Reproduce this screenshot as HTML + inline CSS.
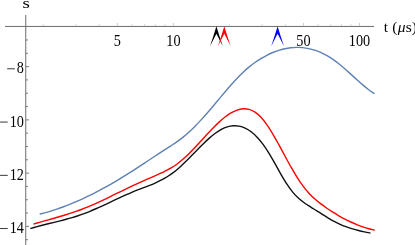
<!DOCTYPE html>
<html><head><meta charset="utf-8"><style>
html,body{margin:0;padding:0;background:#fff;}
body{width:415px;height:245px;overflow:hidden;font-family:"Liberation Serif",serif;}
svg{display:block;}
</style></head><body>
<svg width="415" height="245" viewBox="0 0 415 245">
<line x1="5" y1="26.45" x2="374" y2="26.45" stroke="#6c6c6c" stroke-width="1"/>
<line x1="25.75" y1="15" x2="25.75" y2="245" stroke="#6c6c6c" stroke-width="1"/>
<line x1="117.38" y1="26.45" x2="117.38" y2="22.85" stroke="#999" stroke-width="0.45"/>
<line x1="173.40" y1="26.45" x2="173.40" y2="22.85" stroke="#999" stroke-width="0.45"/>
<line x1="303.48" y1="26.45" x2="303.48" y2="22.85" stroke="#999" stroke-width="0.45"/>
<line x1="359.50" y1="26.45" x2="359.50" y2="22.85" stroke="#999" stroke-width="0.45"/>
<line x1="43.32" y1="26.45" x2="43.32" y2="24.25" stroke="#999" stroke-width="0.45"/>
<line x1="76.09" y1="26.45" x2="76.09" y2="24.25" stroke="#999" stroke-width="0.45"/>
<line x1="99.34" y1="26.45" x2="99.34" y2="24.25" stroke="#999" stroke-width="0.45"/>
<line x1="132.11" y1="26.45" x2="132.11" y2="24.25" stroke="#999" stroke-width="0.45"/>
<line x1="144.57" y1="26.45" x2="144.57" y2="24.25" stroke="#999" stroke-width="0.45"/>
<line x1="155.37" y1="26.45" x2="155.37" y2="24.25" stroke="#999" stroke-width="0.45"/>
<line x1="164.88" y1="26.45" x2="164.88" y2="24.25" stroke="#999" stroke-width="0.45"/>
<line x1="229.42" y1="26.45" x2="229.42" y2="24.25" stroke="#999" stroke-width="0.45"/>
<line x1="262.19" y1="26.45" x2="262.19" y2="24.25" stroke="#999" stroke-width="0.45"/>
<line x1="285.44" y1="26.45" x2="285.44" y2="24.25" stroke="#999" stroke-width="0.45"/>
<line x1="318.21" y1="26.45" x2="318.21" y2="24.25" stroke="#999" stroke-width="0.45"/>
<line x1="330.67" y1="26.45" x2="330.67" y2="24.25" stroke="#999" stroke-width="0.45"/>
<line x1="341.47" y1="26.45" x2="341.47" y2="24.25" stroke="#999" stroke-width="0.45"/>
<line x1="350.98" y1="26.45" x2="350.98" y2="24.25" stroke="#999" stroke-width="0.45"/>
<line x1="25.75" y1="39.97" x2="27.95" y2="39.97" stroke="#7a7a7a" stroke-width="1"/>
<line x1="25.75" y1="53.28" x2="27.95" y2="53.28" stroke="#7a7a7a" stroke-width="1"/>
<line x1="25.75" y1="66.60" x2="29.05" y2="66.60" stroke="#7a7a7a" stroke-width="1"/>
<line x1="25.75" y1="79.91" x2="27.95" y2="79.91" stroke="#7a7a7a" stroke-width="1"/>
<line x1="25.75" y1="93.23" x2="27.95" y2="93.23" stroke="#7a7a7a" stroke-width="1"/>
<line x1="25.75" y1="106.54" x2="27.95" y2="106.54" stroke="#7a7a7a" stroke-width="1"/>
<line x1="25.75" y1="119.86" x2="29.05" y2="119.86" stroke="#7a7a7a" stroke-width="1"/>
<line x1="25.75" y1="133.18" x2="27.95" y2="133.18" stroke="#7a7a7a" stroke-width="1"/>
<line x1="25.75" y1="146.49" x2="27.95" y2="146.49" stroke="#7a7a7a" stroke-width="1"/>
<line x1="25.75" y1="159.81" x2="27.95" y2="159.81" stroke="#7a7a7a" stroke-width="1"/>
<line x1="25.75" y1="173.12" x2="29.05" y2="173.12" stroke="#7a7a7a" stroke-width="1"/>
<line x1="25.75" y1="186.44" x2="27.95" y2="186.44" stroke="#7a7a7a" stroke-width="1"/>
<line x1="25.75" y1="199.75" x2="27.95" y2="199.75" stroke="#7a7a7a" stroke-width="1"/>
<line x1="25.75" y1="213.06" x2="27.95" y2="213.06" stroke="#7a7a7a" stroke-width="1"/>
<line x1="25.75" y1="226.38" x2="29.05" y2="226.38" stroke="#7a7a7a" stroke-width="1"/>
<line x1="25.75" y1="239.69" x2="27.95" y2="239.69" stroke="#7a7a7a" stroke-width="1"/>
<g opacity="0.99">
<text transform="translate(117.38 45.80) scale(0.920 1.060)" text-anchor="middle" font-family="Liberation Serif, serif" font-size="15.5" fill="#000" >5</text>
<text transform="translate(173.40 45.80) scale(0.920 1.060)" text-anchor="middle" font-family="Liberation Serif, serif" font-size="15.5" fill="#000" >10</text>
<text transform="translate(303.48 45.80) scale(0.920 1.060)" text-anchor="middle" font-family="Liberation Serif, serif" font-size="15.5" fill="#000" >50</text>
<text transform="translate(359.50 45.80) scale(0.920 1.060)" text-anchor="middle" font-family="Liberation Serif, serif" font-size="15.5" fill="#000" >100</text>
<text transform="translate(23.90 73.30) scale(0.920 1.060)" text-anchor="end" font-family="Liberation Serif, serif" font-size="15.5" fill="#000" >8</text>
<rect x="7.17" y="68.35" width="7.7" height="0.9" fill="#222"/>
<text transform="translate(23.90 126.56) scale(0.920 1.060)" text-anchor="end" font-family="Liberation Serif, serif" font-size="15.5" fill="#000" >10</text>
<rect x="0.04" y="121.61" width="7.7" height="0.9" fill="#222"/>
<text transform="translate(23.90 179.82) scale(0.920 1.060)" text-anchor="end" font-family="Liberation Serif, serif" font-size="15.5" fill="#000" >12</text>
<rect x="0.04" y="174.87" width="7.7" height="0.9" fill="#222"/>
<text transform="translate(23.90 233.08) scale(0.920 1.060)" text-anchor="end" font-family="Liberation Serif, serif" font-size="15.5" fill="#000" >14</text>
<rect x="0.04" y="228.13" width="7.7" height="0.9" fill="#222"/>
<text transform="translate(26.1 7.6) scale(1.22 0.96)" text-anchor="middle" font-family="Liberation Serif, serif" font-size="15.5" fill="#000">s</text>
<text x="383.7" y="32.4" letter-spacing="0.2" font-family="Liberation Serif, serif" font-size="15.5" fill="#000">t (<tspan font-style="italic">μ</tspan>s)</text>
</g>
<path d="M39.70 214.12 C40.70 213.86 43.68 213.13 45.68 212.58 C47.67 212.04 49.66 211.45 51.65 210.84 C53.65 210.23 55.64 209.58 57.63 208.90 C59.62 208.22 61.61 207.51 63.61 206.77 C65.60 206.03 67.59 205.25 69.58 204.45 C71.58 203.65 73.57 202.82 75.56 201.97 C77.55 201.11 79.55 200.22 81.54 199.31 C83.53 198.40 85.52 197.46 87.51 196.49 C89.51 195.53 91.50 194.54 93.49 193.53 C95.48 192.51 97.48 191.47 99.47 190.41 C101.46 189.35 103.45 188.27 105.44 187.16 C107.44 186.06 109.43 184.93 111.42 183.78 C113.41 182.64 115.41 181.47 117.40 180.28 C119.39 179.09 121.38 177.89 123.38 176.66 C125.37 175.44 127.36 174.20 129.35 172.94 C131.34 171.68 133.34 170.40 135.33 169.12 C137.32 167.83 139.31 166.52 141.31 165.21 C143.30 163.90 145.29 162.57 147.28 161.25 C149.27 159.93 151.27 158.60 153.26 157.28 C155.25 155.96 157.24 154.64 159.24 153.34 C161.23 152.03 163.22 150.74 165.21 149.45 C167.20 148.16 169.20 146.91 171.19 145.60 C173.18 144.28 175.17 142.98 177.17 141.56 C179.16 140.14 181.15 138.69 183.14 137.09 C185.14 135.49 187.13 133.77 189.12 131.95 C191.11 130.14 193.10 128.19 195.10 126.18 C197.09 124.17 199.08 122.05 201.07 119.89 C203.07 117.73 205.06 115.48 207.05 113.20 C209.04 110.92 211.03 108.58 213.03 106.23 C215.02 103.88 217.01 101.48 219.00 99.11 C221.00 96.73 222.99 94.32 224.98 91.98 C226.97 89.63 228.96 87.29 230.96 85.03 C232.95 82.78 234.94 80.56 236.93 78.45 C238.93 76.35 240.92 74.32 242.91 72.43 C244.90 70.54 246.90 68.77 248.89 67.12 C250.88 65.47 252.87 63.95 254.86 62.53 C256.86 61.11 258.85 59.81 260.84 58.60 C262.83 57.39 264.83 56.29 266.82 55.27 C268.81 54.26 270.80 53.34 272.79 52.51 C274.79 51.69 276.78 50.96 278.77 50.33 C280.76 49.70 282.76 49.17 284.75 48.74 C286.74 48.31 288.73 47.98 290.72 47.76 C292.72 47.53 294.71 47.41 296.70 47.40 C298.69 47.38 300.69 47.47 302.68 47.67 C304.67 47.87 306.66 48.18 308.66 48.60 C310.65 49.02 312.64 49.55 314.63 50.20 C316.62 50.85 318.62 51.60 320.61 52.48 C322.60 53.36 324.59 54.35 326.59 55.46 C328.58 56.57 330.57 57.80 332.56 59.15 C334.55 60.50 336.55 62.00 338.54 63.56 C340.53 65.13 342.52 66.83 344.52 68.55 C346.51 70.27 348.50 72.09 350.49 73.88 C352.49 75.68 354.48 77.53 356.47 79.31 C358.46 81.10 360.45 82.90 362.45 84.60 C364.44 86.30 366.43 87.97 368.42 89.50 C370.42 91.04 373.40 93.07 374.40 93.79" fill="none" stroke="#5E81B5" stroke-width="1.4" stroke-linecap="butt" stroke-linejoin="round"/>
<path d="M33.40 224.17 C34.40 223.88 37.39 222.97 39.39 222.38 C41.39 221.80 43.38 221.23 45.38 220.66 C47.38 220.09 49.37 219.53 51.37 218.96 C53.36 218.40 55.36 217.83 57.36 217.26 C59.35 216.68 61.35 216.10 63.35 215.50 C65.34 214.89 67.34 214.28 69.34 213.65 C71.33 213.01 73.33 212.35 75.33 211.67 C77.32 210.98 79.32 210.27 81.32 209.52 C83.31 208.76 85.31 207.98 87.31 207.16 C89.30 206.34 91.30 205.48 93.29 204.60 C95.29 203.72 97.29 202.81 99.28 201.89 C101.28 200.96 103.28 200.01 105.27 199.05 C107.27 198.10 109.27 197.12 111.26 196.14 C113.26 195.17 115.26 194.18 117.25 193.20 C119.25 192.22 121.25 191.23 123.24 190.26 C125.24 189.29 127.24 188.32 129.23 187.37 C131.23 186.42 133.22 185.49 135.22 184.57 C137.22 183.65 139.21 182.76 141.21 181.87 C143.21 180.98 145.20 180.11 147.20 179.23 C149.20 178.35 151.19 177.48 153.19 176.59 C155.19 175.69 157.18 174.80 159.18 173.88 C161.18 172.96 163.17 172.05 165.17 171.05 C167.16 170.06 169.16 169.09 171.16 167.91 C173.15 166.73 175.15 165.46 177.15 163.99 C179.14 162.52 181.14 160.85 183.14 159.09 C185.13 157.33 187.13 155.40 189.13 153.42 C191.12 151.45 193.12 149.35 195.12 147.24 C197.11 145.13 199.11 142.93 201.11 140.77 C203.10 138.61 205.10 136.40 207.09 134.27 C209.09 132.13 211.09 129.99 213.08 127.97 C215.08 125.94 217.08 123.95 219.07 122.12 C221.07 120.30 223.07 118.54 225.06 117.00 C227.06 115.46 229.06 114.04 231.05 112.89 C233.05 111.73 235.05 110.74 237.04 110.06 C239.04 109.38 241.04 108.91 243.03 108.80 C245.03 108.69 247.02 108.84 249.02 109.40 C251.02 109.95 253.01 110.81 255.01 112.13 C257.01 113.44 259.00 115.15 261.00 117.28 C263.00 119.40 264.99 122.03 266.99 124.87 C268.99 127.71 270.98 130.97 272.98 134.31 C274.98 137.66 276.97 141.31 278.97 144.93 C280.96 148.55 282.96 152.36 284.96 156.03 C286.95 159.70 288.95 163.45 290.95 166.95 C292.94 170.46 294.94 173.89 296.94 177.05 C298.93 180.21 300.93 183.21 302.93 185.90 C304.92 188.59 306.92 190.98 308.92 193.17 C310.91 195.36 312.91 197.25 314.91 199.04 C316.90 200.83 318.90 202.39 320.89 203.92 C322.89 205.45 324.89 206.84 326.88 208.22 C328.88 209.59 330.88 210.91 332.87 212.17 C334.87 213.43 336.87 214.64 338.86 215.79 C340.86 216.94 342.86 218.03 344.85 219.06 C346.85 220.10 348.85 221.08 350.84 222.00 C352.84 222.92 354.84 223.78 356.83 224.59 C358.83 225.39 360.82 226.14 362.82 226.83 C364.82 227.51 366.81 228.14 368.81 228.71 C370.81 229.28 373.80 229.98 374.80 230.24" fill="none" stroke="#FF0000" stroke-width="1.4" stroke-linecap="butt" stroke-linejoin="round"/>
<path d="M30.30 228.57 C31.29 228.29 34.28 227.42 36.27 226.87 C38.26 226.33 40.25 225.81 42.24 225.30 C44.23 224.79 46.22 224.30 48.21 223.80 C50.19 223.31 52.18 222.82 54.17 222.33 C56.16 221.83 58.15 221.34 60.14 220.83 C62.13 220.32 64.12 219.81 66.11 219.26 C68.10 218.72 70.09 218.16 72.08 217.57 C74.07 216.98 76.06 216.36 78.05 215.71 C80.04 215.05 82.03 214.36 84.02 213.63 C86.01 212.89 87.99 212.11 89.98 211.29 C91.97 210.48 93.96 209.63 95.95 208.76 C97.94 207.89 99.93 206.98 101.92 206.07 C103.91 205.16 105.90 204.22 107.89 203.28 C109.88 202.35 111.87 201.40 113.86 200.47 C115.85 199.53 117.84 198.59 119.83 197.67 C121.82 196.75 123.81 195.83 125.79 194.94 C127.78 194.06 129.77 193.19 131.76 192.36 C133.75 191.52 135.74 190.73 137.73 189.95 C139.72 189.17 141.71 188.43 143.70 187.66 C145.69 186.89 147.68 186.14 149.67 185.33 C151.66 184.52 153.65 183.70 155.64 182.80 C157.63 181.89 159.62 180.95 161.61 179.90 C163.59 178.84 165.58 177.73 167.57 176.47 C169.56 175.21 171.55 173.86 173.54 172.35 C175.53 170.85 177.52 169.18 179.51 167.42 C181.50 165.66 183.49 163.74 185.48 161.81 C187.47 159.87 189.46 157.82 191.45 155.79 C193.44 153.77 195.43 151.68 197.42 149.66 C199.41 147.64 201.39 145.60 203.38 143.68 C205.37 141.75 207.36 139.86 209.35 138.13 C211.34 136.40 213.33 134.74 215.32 133.29 C217.31 131.85 219.30 130.52 221.29 129.45 C223.28 128.38 225.27 127.49 227.26 126.87 C229.25 126.25 231.24 125.87 233.23 125.75 C235.22 125.63 237.21 125.75 239.19 126.15 C241.18 126.55 243.17 127.20 245.16 128.14 C247.15 129.09 249.14 130.29 251.13 131.80 C253.12 133.31 255.11 135.09 257.10 137.18 C259.09 139.28 261.08 141.66 263.07 144.36 C265.06 147.06 267.05 150.14 269.04 153.36 C271.03 156.58 273.02 160.19 275.01 163.68 C276.99 167.17 278.98 170.87 280.97 174.30 C282.96 177.72 284.95 181.19 286.94 184.21 C288.93 187.23 290.92 190.02 292.91 192.41 C294.90 194.81 296.89 196.76 298.88 198.57 C300.87 200.37 302.86 201.83 304.85 203.25 C306.84 204.67 308.83 205.85 310.82 207.11 C312.81 208.37 314.79 209.55 316.78 210.79 C318.77 212.04 320.76 213.33 322.75 214.58 C324.74 215.83 326.73 217.11 328.72 218.29 C330.71 219.47 332.70 220.63 334.69 221.67 C336.68 222.72 338.67 223.67 340.66 224.55 C342.65 225.43 344.64 226.21 346.63 226.94 C348.62 227.67 350.61 228.31 352.59 228.92 C354.58 229.52 356.57 230.05 358.56 230.55 C360.55 231.05 362.54 231.49 364.53 231.91 C366.52 232.34 369.51 232.89 370.50 233.08" fill="none" stroke="#111" stroke-width="1.4" stroke-linecap="butt" stroke-linejoin="round"/>
<path d="M216.40 26.25 Q213.60 35.65 210.00 46.25 L216.40 33.65 L222.80 46.25 Q219.20 35.65 216.40 26.25 Z" fill="#000"/>
<path d="M224.30 26.25 Q221.50 35.65 217.90 46.25 L224.30 33.65 L230.70 46.25 Q227.10 35.65 224.30 26.25 Z" fill="#FF0000"/>
<path d="M277.60 26.25 Q274.80 35.65 271.20 46.25 L277.60 33.65 L284.00 46.25 Q280.40 35.65 277.60 26.25 Z" fill="#0000FF"/>
</svg>
</body></html>
